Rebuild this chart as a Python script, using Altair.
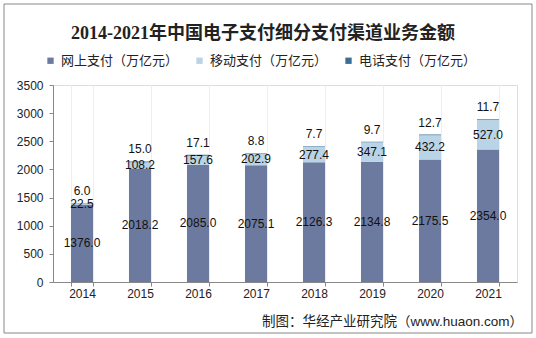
import altair as alt
import pandas as pd

years = ["2014", "2015", "2016", "2017", "2018", "2019", "2020", "2021"]
series = ["网上支付（万亿元）", "移动支付（万亿元）", "电话支付（万亿元）"]
online = [1376.0, 2018.2, 2085.0, 2075.1, 2126.3, 2134.8, 2175.5, 2354.0]
mobile = [22.5, 108.2, 157.6, 202.9, 277.4, 347.1, 432.2, 527.0]
phone = [6.0, 15.0, 17.1, 8.8, 7.7, 9.7, 12.7, 11.7]
colors = ["#6d7aa0", "#b9d4e6", "#3b6e94"]
y_ticks = [0, 500, 1000, 1500, 2000, 2500, 3000, 3500]
title_text = "2014-2021年中国电子支付细分支付渠道业务金额"
source_text = ["制图：华经产业研究院（www.huaon.com）"]

rows = []
for i, y in enumerate(years):
    for k, vals in enumerate([online, mobile, phone]):
        rows.append({"year": y, "series": series[k], "value": vals[i], "ord": k})
df = pd.DataFrame(rows)

W, H = 464, 197
sans = "Liberation Sans, Arial, Noto Sans CJK SC"

base = alt.Chart(df).transform_stack(
    stack="value", as_=["y0", "y1"], groupby=["year"],
    sort=[alt.SortField("ord", order="ascending")]
)

xaxis = alt.Axis(labelAngle=0, tickBand="extent", tickSize=4, labelPadding=2,
                 domainColor="#888888", tickColor="#888888",
                 grid=True, gridColor="#eeeeee",
                 labelFont=sans, labelFontSize=12, labelColor="#222222")
yaxis = alt.Axis(values=y_ticks, format="d", labelOverlap=False,
                 tickSize=4, labelPadding=6, grid=False,
                 domainColor="#888888", tickColor="#888888",
                 labelFont=sans, labelFontSize=12, labelColor="#222222")
xscale = alt.Scale(paddingInner=0.62, paddingOuter=0.31)
yscale = alt.Scale(domain=[0, 3500])


def X():
    return alt.X("year:N", sort=years, title=None, scale=xscale, axis=xaxis)


def Y(field):
    return alt.Y(field, title=None, scale=yscale, axis=yaxis)


bars = base.mark_bar().encode(
    x=X(),
    y=Y("y0:Q"),
    y2="y1:Q",
    color=alt.Color("series:N", sort=series,
                    scale=alt.Scale(domain=series, range=colors),
                    legend=alt.Legend(title=None, orient="none", direction="horizontal",
                                      legendX=-9, legendY=-31,
                                      symbolType="square", symbolSize=40, symbolStrokeWidth=0,
                                      labelFont=sans, labelFontSize=13, labelColor="#222222",
                                      labelLimit=300, labelOffset=4, columnPadding=14)),
)

mid_labels = base.transform_filter("datum.ord < 2").transform_calculate(
    ym="(datum.y0 + datum.y1) / 2"
).mark_text(font=sans, fontSize=12, color="#111111", baseline="middle").encode(
    x=X(),
    y=Y("ym:Q"),
    text=alt.Text("value:Q", format=".1f"),
)

top_labels = base.transform_filter("datum.ord == 2").mark_text(
    font=sans, fontSize=12, color="#111111", baseline="middle", dy=-12
).encode(
    x=X(),
    y=Y("y1:Q"),
    text=alt.Text("value:Q", format=".1f"),
)

src = alt.Chart(pd.DataFrame({"t": source_text})).mark_text(
    font=sans, fontSize=13.5, color="#222222", align="right", baseline="middle"
).encode(x=alt.value(470), y=alt.value(237), text="t:N")

frame = alt.Chart(pd.DataFrame({"a": [0]})).mark_rect(
    fill="transparent", stroke="#888888", strokeWidth=1
).encode(x=alt.value(-49), x2=alt.value(479), y=alt.value(-81), y2=alt.value(248))

chart = alt.layer(bars, mid_labels, top_labels, src, frame).properties(
    width=W, height=H,
    title=alt.TitleParams(title_text, font="Liberation Serif, Noto Sans CJK SC",
                          fontSize=18, fontWeight="bold", color="#222222",
                          anchor="middle", dx=-22, offset=-39),
    autosize=alt.AutoSizeParams(type="none"),
    padding={"left": 53, "top": 85, "right": 19, "bottom": 56},
).configure_view(stroke=None).configure(background="white")

chart.save("out.html", embed_options={"renderer": "svg", "actions": False})
